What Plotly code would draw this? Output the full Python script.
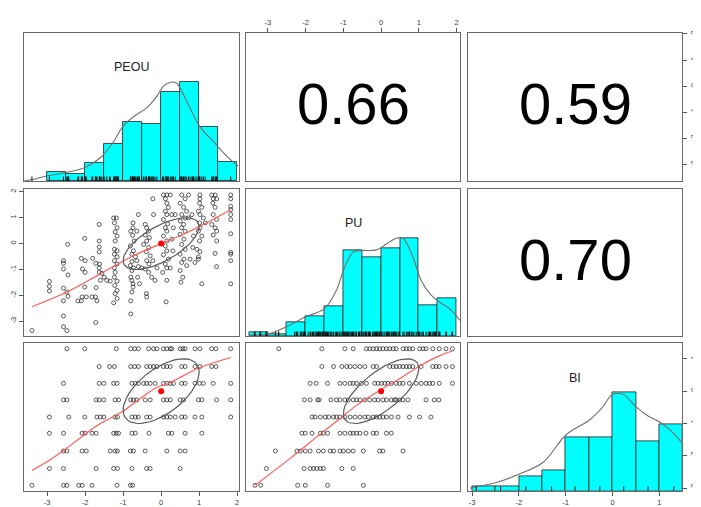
import numpy as np
import plotly.graph_objects as go

# The page body adds an 8px offset, so the figure is laid out 8px up/left of the window.
OFF = 8
W, H = 701 - OFF, 507 - OFF

# ---------------- data ----------------
var_names = ["PEOU", "PU", "BI"]
r_peou_pu = 0.66
r_peou_bi = 0.59
r_pu_bi = 0.70
var_means = [0.0, 0.0, 0.0]
var_sds = [1.0, 1.0, 1.0]

# Panel (2,1): PEOU (x) vs PU (y)
s21_peou = [-3.40, -2.94, -2.94, -2.94, -2.57, -2.57, -2.57, -2.45, -2.57, -2.48, -2.45, -2.57, -2.57, -2.57, -2.48, -2.46,
            -2.01, -2.10, -2.00, -2.07, -2.00, -2.01, -2.19, -2.08, -1.97, -2.10,
            -1.63, -1.63, -1.63, -1.63, -1.80, -1.72, -1.62, -1.63, -1.63, -1.60, -1.71, -1.82, -1.73, -1.69, -1.72, -1.56,
            -1.25, -1.18, -1.23, -1.16, -1.21, -1.16, -1.21, -1.23, -1.16, -1.23, -1.16, -1.23, -1.16, -1.23, -1.21, -1.23,
            -1.16, -1.22, -1.16, -1.21, -1.16, -1.25, -1.34, -1.43, -1.50,
            -0.74, -0.74, -0.80, -0.64, -0.75, -0.71, -0.81, -0.60, -0.73, -0.77, -0.68, -0.77, -0.64, -0.81, -0.73, -0.77,
            -0.60, -0.80, -0.77, -0.74, -0.74, -0.77, -0.80, -0.80, -0.62, -0.57, -0.51,
            -0.22, -0.42, -0.38, -0.33, -0.42, -0.31, -0.38, -0.46, -0.33, -0.39, -0.29, -0.38, -0.32, -0.42, -0.33, -0.25,
            -0.39, -0.38, -0.20, -0.11, -0.16, -0.22,
            0.06, 0.15, 0.24, 0.11, 0.15, 0.19, 0.11, 0.15, 0.06, 0.17, 0.11, 0.15, 0.06, 0.15, 0.11, 0.15, 0.06, 0.19,
            0.11, 0.15, 0.04, 0.15, 0.13, 0.28, 0.37, 0.32, 0.28, 0.31, 0.24,
            0.54, 0.72, 0.63, 0.50, 0.59, 0.67, 0.54, 0.63, 0.50, 0.59, 0.54, 0.63, 0.50, 0.60, 0.54, 0.63, 0.50, 0.60,
            0.54, 0.67, 0.50, 0.57, 0.52, 0.81, 0.72, 0.85, 0.83, 0.76, 0.89,
            1.02, 1.02, 1.01, 1.07, 0.98, 1.02, 1.11, 1.01, 1.02, 0.98, 1.07, 1.01, 0.94, 1.02, 0.98, 0.98, 1.07, 1.16,
            1.33, 1.42, 1.37, 1.46, 1.36, 1.42, 1.37, 1.46, 1.33, 1.42, 1.46, 1.37, 1.46, 1.42, 1.46,
            1.83, 1.83, 1.83, 1.83, 1.83, 1.83, 1.83, 1.83, 1.83, 1.83, 1.83]
s21_pu = [-3.36, -1.46, -1.65, -1.83, -0.66, -0.76, -0.98, -1.21, -1.72, -1.87, -2.04, -2.21, -2.80, -3.21, -3.36, -0.03,
          0.20, -0.57, -0.66, -0.98, -1.11, -1.68, -2.21, -2.06, -2.06, -2.21,
          0.74, 0.10, -0.13, -0.32, -0.57, -0.76, -0.79, -0.94, -1.11, -1.42, -1.70, -2.06, -2.06, -2.21, -3.05, -1.15,
          0.99, 0.99, 0.80, 0.61, 0.45, 0.29, 0.10, -0.22, -0.28, -0.41, -0.51, -0.66, -0.79, -0.94, -1.11, -1.30,
          -1.45, -1.62, -1.81, -1.93, -2.12, -2.29, -1.45, -1.42, -1.30,
          0.80, 0.61, 0.48, 0.48, 0.32, 0.10, -0.09, 1.12, -0.28, -0.41, -0.51, -0.69, -0.66, -0.85, -0.94, -1.04,
          -0.89, -1.30, -1.42, -1.55, -1.68, -1.87, -2.21, -2.72, -1.30, -1.55, -0.94,
          1.73, 0.74, 0.61, 0.48, 0.33, 0.23, 0.10, -0.03, -0.15, -0.31, -0.47, -0.66, -0.79, -0.98, -1.11, -1.30,
          -1.93, -2.06, 1.12, -0.94, -1.42, -0.66,
          1.88, 1.88, 1.88, 1.73, 1.56, 1.40, 1.25, 1.12, 0.93, 0.76, 0.61, 0.48, 0.29, 0.10, -0.09, -0.28, -0.43, -0.60,
          -0.79, -0.94, -1.11, -1.42, -2.25, 1.12, 1.12, 0.61, 0.17, -0.28, -0.94,
          1.88, 1.88, 1.73, 1.56, 1.40, 1.25, 1.12, 0.99, 0.87, 0.74, 0.61, 0.48, 0.36, 0.17, -0.03, -0.22, -0.41, -0.60,
          -0.73, -0.85, -1.04, -1.30, -1.49, 1.12, 0.99, 0.29, -0.15, -0.60, -0.73,
          1.88, 1.73, 1.56, 1.40, 1.25, 1.12, 0.99, 0.80, 0.61, 0.48, 0.29, 0.10, -0.22, -0.31, -0.51, -0.60, -1.55, 0.80,
          1.88, 1.88, 1.73, 1.73, 1.56, 1.40, 1.12, 0.93, 0.74, 0.61, 0.48, 0.33, 0.10, -0.38, -0.89,
          1.88, 1.73, 1.44, 1.31, 1.12, 0.93, 0.38, -0.34, -0.41, -0.66, -1.55]

# BI response levels (standardised)
bi_levels = [1.31, 0.76, 0.24, -0.27, -0.80, -1.30, -1.85, -2.39, -2.91]

# Panel (3,1): PEOU values observed at each BI level
s31_peou_by_bi = [
    [-2.48, -2.01, -1.18, -0.80, -0.70, -0.60, -0.33, -0.20, -0.11, 0.06, 0.15, 0.24, 0.28, 0.50, 0.57, 0.63, 0.89, 1.02, 1.33, 1.44, 1.83],
    [-1.63, -1.36, -1.23, -0.80, -0.70, -0.60, -0.38, -0.29, -0.20, -0.11, 0.06, 0.15, 0.24, 0.54, 0.63, 0.89, 1.02, 1.33, 1.44],
    [-2.57, -1.63, -1.51, -1.25, -1.16, -0.77, -0.68, -0.60, -0.46, -0.38, -0.29, -0.16, 0.06, 0.15, 0.24, 0.32, 0.54, 0.63, 0.89, 1.01, 1.11, 1.37, 1.83],
    [-2.57, -2.48, -1.71, -1.63, -1.51, -1.21, -1.12, -0.80, -0.73, -0.64, -0.42, -0.29, 0.06, 0.15, 0.24, 0.50, 0.59, 0.98, 1.07, 1.46, 1.83],
    [-2.94, -2.43, -2.01, -1.69, -1.60, -1.51, -1.21, -1.15, -0.77, -0.68, -0.60, -0.38, -0.29, 0.06, 0.15, 0.24, 0.37, 0.54, 0.63, 0.89, 1.07, 1.83],
    [-2.94, -2.57, -2.08, -2.00, -1.82, -1.71, -1.25, -1.18, -1.12, -0.77, -0.68, -0.32, 0.19, 0.28, 0.63, 1.07],
    [-2.57, -2.48, -2.08, -1.97, -1.34, -1.21, -1.15, -0.81, -0.73, -0.42, 0.15, 0.50, 0.63],
    [-2.94, -2.57, -1.71, -1.25, -1.15, -0.77, -0.38, -0.29, 0.50],
    [-3.40, -2.57, -2.48, -2.17, -2.08, -1.82, -1.16, -0.81, -0.75],
]

# Panel (3,2): PU values observed at each BI level
s32_pu_by_bi = [
    [-2.71, -1.57, -0.96, -0.74, -0.39, -0.30, -0.21, -0.12, -0.04, 0.05, 0.14, 0.23, 0.32, 0.40, 0.58, 0.67, 0.75, 0.84, 1.02, 1.11, 1.19, 1.37, 1.54, 1.72, 1.89],
    [-1.57, -1.26, -1.04, -0.91, -0.82, -0.69, -0.56, -0.43, -0.21, -0.12, 0.23, 0.32, 0.40, 0.49, 0.58, 0.67, 0.75, 0.84, 1.06, 1.37, 1.46, 1.54, 1.72, 1.89],
    [-1.88, -1.72, -1.42, -1.09, -0.96, -0.82, -0.74, -0.65, -0.52, -0.39, -0.17, -0.08, 0.01, 0.10, 0.18, 0.27, 0.40, 0.49, 0.58, 0.75, 0.93, 1.06, 1.19, 1.28, 1.37, 1.54, 1.89],
    [-2.03, -1.88, -1.68, -1.64, -1.33, -1.18, -1.09, -0.96, -0.87, -0.74, -0.65, -0.56, -0.43, -0.30, -0.17, -0.08, 0.05, 0.14, 0.27, 0.36, 0.40, 0.49, 0.58, 0.71, 1.19, 1.41, 1.53],
    [-1.83, -1.75, -1.61, -1.48, -1.39, -1.26, -1.18, -1.09, -0.96, -0.82, -0.69, -0.56, -0.43, -0.34, -0.21, -0.12, -0.04, 0.05, 0.14, 0.27, 0.45, 0.75, 1.02, 1.32],
    [-2.10, -2.01, -1.83, -1.61, -1.53, -1.42, -1.09, -0.96, -0.82, -0.74, -0.65, -0.56, -0.40, -0.21, -0.12, 0.14, 0.27],
    [-2.80, -2.23, -2.14, -2.01, -1.88, -1.66, -1.53, -1.35, -1.26, -1.09, -1.00, -0.87, -0.74, -0.47, -0.04, 0.05, 0.58],
    [-3.04, -2.04, -1.88, -1.79, -1.70, -1.61, -1.53, -1.04, -0.74],
    [-3.34, -3.19, -2.21, -2.01, -1.42, -0.47],
]

# Smoothed (loess) fits
fit21_x = [-3.40, -2.48, -1.60, -0.73, 0.00, 0.59, 1.02, 1.83]
fit21_y = [-2.44, -1.87, -1.17, -0.47, 0.00, 0.36, 0.67, 1.31]
fit31_x = [-3.40, -2.92, -2.48, -2.04, -1.60, -1.03, -0.55, -0.11, 0.15, 0.59, 1.02, 1.83]
fit31_y = [-2.45, -2.12, -1.76, -1.36, -1.00, -0.64, -0.23, 0.12, 0.22, 0.48, 0.73, 1.04]
fit32_x = [-3.34, -2.40, -1.53, -1.09, -0.65, -0.04, 0.49, 1.02, 1.54, 1.89]
fit32_y = [-2.91, -2.07, -1.25, -0.85, -0.44, 0.02, 0.38, 0.78, 1.09, 1.24]

# Histograms (bar heights relative to tallest bar)
peou_breaks = [-3.0, -2.5, -2.0, -1.5, -1.0, -0.5, 0.0, 0.5, 1.0, 1.5, 2.0]
peou_heights = [0.09, 0.077, 0.18, 0.38, 0.60, 0.58, 0.90, 1.0, 0.55, 0.19]
pu_breaks = [-3.5, -3.0, -2.5, -2.0, -1.5, -1.0, -0.5, 0.0, 0.5, 1.0, 1.5, 2.0]
pu_heights = [0.037, 0.02, 0.14, 0.20, 0.30, 0.88, 0.81, 0.90, 1.0, 0.315, 0.386]
bi_breaks = [-3.0, -2.5, -2.0, -1.5, -1.0, -0.5, 0.0, 0.5, 1.0, 1.5]
bi_heights = [0.05, 0.05, 0.146, 0.21, 0.546, 0.54, 1.0, 0.50, 0.68]

# Density curves (relative to their maximum)
peou_dens_x = [-3.60, -3.35, -3.02, -2.52, -2.02, -1.60, -1.25, -1.01, -0.73, -0.38, -0.11, 0.06, 0.25, 0.41, 0.54, 0.76, 1.02, 1.37, 1.73, 2.03]
peou_dens_y = [0.0, 0.017, 0.05, 0.084, 0.134, 0.235, 0.40, 0.55, 0.65, 0.74, 0.86, 0.96, 1.0, 0.99, 0.91, 0.74, 0.55, 0.40, 0.25, 0.15]
pu_dens_x = [-3.50, -3.0, -2.51, -2.0, -1.5, -1.18, -1.0, -0.74, -0.5, -0.12, 0.14, 0.40, 0.58, 0.84, 1.06, 1.32, 1.54, 1.81, 2.09]
pu_dens_y = [0.01, 0.02, 0.095, 0.196, 0.28, 0.47, 0.67, 0.857, 0.874, 0.88, 0.94, 1.0, 1.0, 0.81, 0.57, 0.42, 0.35, 0.28, 0.16]
bi_dens_x = [-3.04, -2.48, -1.99, -1.48, -0.99, -0.49, -0.23, 0.0, 0.23, 0.51, 0.76, 1.01, 1.25, 1.48]
bi_dens_y = [0.027, 0.084, 0.17, 0.29, 0.57, 0.72, 0.84, 0.98, 0.98, 0.85, 0.76, 0.70, 0.61, 0.49]

peou_ticks = [-3, -2, -1, 0, 1, 2]
pu_ticks = [-3, -2, -1, 0, 1, 2]
bi_ticks = [-3, -2, -1, 0, 1]

# ---------------- derived quantities ----------------
s31_bi = [lvl for lvl, row in zip(bi_levels, s31_peou_by_bi) for _ in row]
s31_peou = [v for row in s31_peou_by_bi for v in row]
s32_bi = [lvl for lvl, row in zip(bi_levels, s32_pu_by_bi) for _ in row]
s32_pu = [v for row in s32_pu_by_bi for v in row]

peou_all = s21_peou + s31_peou
pu_all = s21_pu + s32_pu
bi_all = s31_bi + s32_bi


def pad_range(vals):
    lo, hi = min(vals), max(vals)
    w = hi - lo
    return [lo - 0.04 * w, hi + 0.04 * w]


rng = [pad_range(peou_all), pad_range(pu_all), pad_range(bi_all)]

# ---------------- layout geometry (window pixels) ----------------
col_px = [(24, 239), (246.7, 461), (469, 682.7)]
row_px = [(31, 180), (188.3, 336), (343.3, 491.7)]

FONT = "Liberation Sans, Arial, sans-serif"
FRAME = "#6a6a6a"
CYAN = "#00FFFF"

fig = go.Figure()
layout = dict(width=W, height=H, margin=dict(l=0, r=0, t=0, b=0, pad=0), autosize=False,
              paper_bgcolor="white", plot_bgcolor="white", showlegend=False,
              font=dict(family=FONT), annotations=[])


def sfx(k):
    return "" if k == 1 else str(k)


def ax_base(domain, rng_, anchor):
    return dict(domain=domain, range=rng_, anchor=anchor, showline=True, mirror=True,
                linecolor=FRAME, linewidth=1, showgrid=False, zeroline=False,
                showticklabels=False, ticks="", fixedrange=True)


tick_font = dict(size=7.5, color="#333844", family=FONT)


def add_ticks(ax, vals, side, is_y):
    ax.update(dict(ticks="outside", ticklen=4, tickwidth=1, tickcolor="#555",
                   showticklabels=True, tickvals=vals, ticktext=[str(v) for v in vals],
                   tickfont=tick_font, side=side))
    if is_y:
        ax["tickangle"] = -90
    return ax


diag_y = [0, 1.5]
for i in range(3):
    for j in range(3):
        k = i * 3 + j + 1
        xd = [(col_px[j][0] - OFF) / W, (col_px[j][1] - OFF) / W]
        yd = [1 - (row_px[i][1] - OFF) / H, 1 - (row_px[i][0] - OFF) / H]
        xr = rng[j]
        yr = diag_y if i == j else rng[i]
        layout["xaxis" + sfx(k)] = ax_base(xd, xr, "y" + sfx(k))
        layout["yaxis" + sfx(k)] = ax_base(yd, yr, "x" + sfx(k))

# axes with ticks (R pairs convention)
add_ticks(layout["xaxis2"], pu_ticks, "top", False)
add_ticks(layout["yaxis3"], peou_ticks, "right", True)
add_ticks(layout["yaxis4"], pu_ticks, "left", True)
add_ticks(layout["xaxis7"], peou_ticks, "bottom", False)
add_ticks(layout["xaxis9"], bi_ticks, "bottom", False)
# right-hand BI axis on the last diagonal panel (overlay)
y10 = dict(domain=layout["yaxis9"]["domain"], range=rng[2], anchor="x9", overlaying="y9",
           showline=False, showgrid=False, zeroline=False, fixedrange=True)
add_ticks(y10, bi_ticks, "right", True)
layout["yaxis10"] = y10


def ax_names(i, j):
    k = i * 3 + j + 1
    return ("x" + sfx(k), "y" + sfx(k))


# ---------------- diagonal: histograms ----------------
hists = [(peou_breaks, peou_heights, peou_dens_x, peou_dens_y, sorted(set(peou_all))),
         (pu_breaks, pu_heights, pu_dens_x, pu_dens_y, sorted(set(pu_all))),
         (bi_breaks, bi_heights, bi_dens_x, bi_dens_y, sorted(set(bi_levels)))]
for d, (br, hts, dx, dy, rug) in enumerate(hists):
    xa, ya = ax_names(d, d)
    centers = [(br[n] + br[n + 1]) / 2 for n in range(len(hts))]
    widths = [br[n + 1] - br[n] for n in range(len(hts))]
    fig.add_trace(go.Bar(x=centers, y=hts, width=widths, xaxis=xa, yaxis=ya,
                         marker=dict(color=CYAN, line=dict(color="#202020", width=0.8)),
                         hoverinfo="skip"))
    fig.add_trace(go.Scatter(x=dx, y=dy, mode="lines", xaxis=xa, yaxis=ya,
                             line=dict(color="#707070", width=1.1, shape="spline"),
                             hoverinfo="skip", cliponaxis=True))
    rx, ry = [], []
    for v in rug:
        rx += [v, v, None]
        ry += [0, 0.045, None]
    fig.add_trace(go.Scatter(x=rx, y=ry, mode="lines", xaxis=xa, yaxis=ya,
                             line=dict(color="#111", width=1), hoverinfo="skip"))
    layout["annotations"].append(dict(text=var_names[d], xref="%s domain" % xa, yref="%s domain" % ya,
                                      x=0.5, y=0.828, showarrow=False,
                                      font=dict(size=12.5, color="#222", family=FONT)))

# ---------------- lower panels: scatter + loess + ellipse ----------------
scatters = [((1, 0), s21_peou, s21_pu, fit21_x, fit21_y, r_peou_pu, 0, 1),
            ((2, 0), s31_peou, s31_bi, fit31_x, fit31_y, r_peou_bi, 0, 2),
            ((2, 1), s32_pu, s32_bi, fit32_x, fit32_y, r_pu_bi, 1, 2)]
seg = 51
ang = np.arange(seg + 1) * 2 * np.pi / seg
for (i, j), sx, sy, fx, fy, r, vx, vy in scatters:
    xa, ya = ax_names(i, j)
    fig.add_trace(go.Scatter(x=sx, y=sy, mode="markers", xaxis=xa, yaxis=ya,
                             marker=dict(symbol="circle-open", size=4, color="rgba(20,20,20,0.85)",
                                         line=dict(width=0.8)),
                             hoverinfo="skip"))
    fig.add_trace(go.Scatter(x=fx, y=fy, mode="lines", xaxis=xa, yaxis=ya,
                             line=dict(color="#ff5a5a", width=1.2, shape="spline"), hoverinfo="skip"))
    theta = np.sign(r) / np.sqrt(2)
    ex = (np.cos(ang) * np.sqrt(1 + r) * theta - np.sin(ang) * np.sqrt(1 - r) * theta) * var_sds[vx] + var_means[vx]
    ey = (np.cos(ang) * np.sqrt(1 + r) * theta + np.sin(ang) * np.sqrt(1 - r) * theta) * var_sds[vy] + var_means[vy]
    fig.add_trace(go.Scatter(x=ex, y=ey, mode="lines", xaxis=xa, yaxis=ya,
                             line=dict(color="#5c5c5c", width=1.2), hoverinfo="skip"))
    fig.add_trace(go.Scatter(x=[var_means[vx]], y=[var_means[vy]], mode="markers", xaxis=xa, yaxis=ya,
                             marker=dict(color="red", size=6), hoverinfo="skip"))

# ---------------- upper panels: correlations ----------------
uppers = [((0, 1), r_peou_pu), ((0, 2), r_peou_bi), ((1, 2), r_pu_bi)]
for (i, j), r in uppers:
    xa, ya = ax_names(i, j)
    fig.add_trace(go.Scatter(x=[0], y=[0], mode="markers", xaxis=xa, yaxis=ya,
                             marker=dict(opacity=0), hoverinfo="skip"))
    layout["annotations"].append(dict(text="%.2f" % r, xref="%s domain" % xa, yref="%s domain" % ya,
                                      x=0.5, y=0.52, showarrow=False, yanchor="middle",
                                      font=dict(size=58, color="black", family=FONT)))

# keep the overlay axis alive
fig.add_trace(go.Scatter(x=[0], y=[0], mode="markers", xaxis="x9", yaxis="y10",
                         marker=dict(opacity=0), hoverinfo="skip"))

fig.update_layout(**layout)
fig.update_layout(bargap=0)
fig.write_html("out.html")
